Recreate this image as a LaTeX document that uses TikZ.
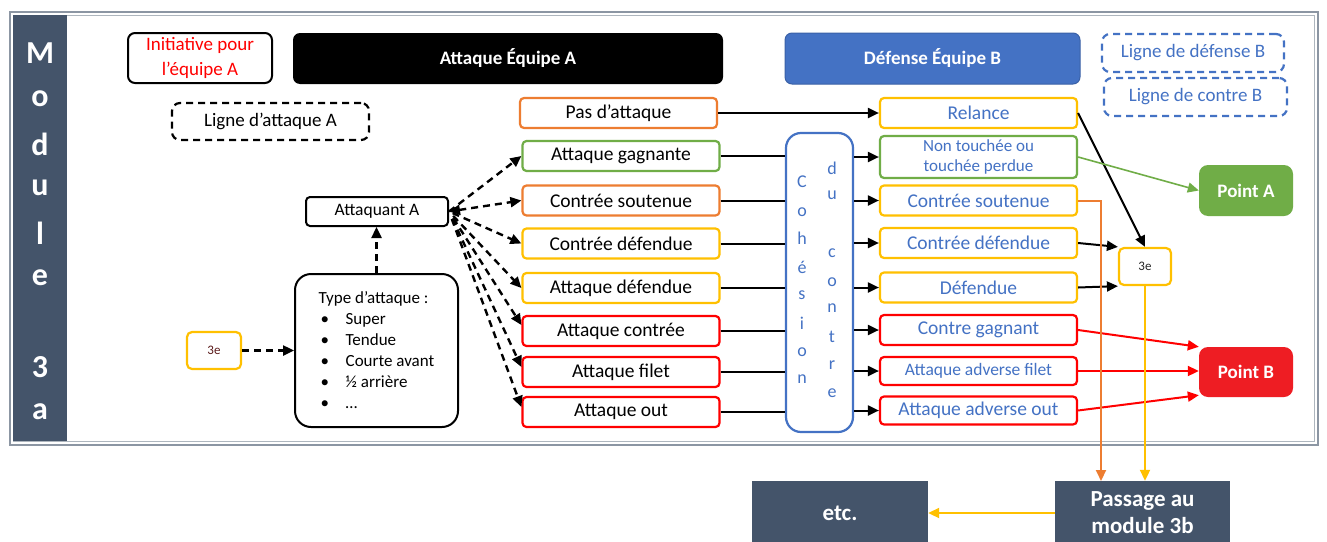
\documentclass[tikz,border=0pt]{standalone}
\usepackage{fontspec}
\setmainfont{Carlito}
\usetikzlibrary{arrows.meta,calc}
\definecolor{cOr}{HTML}{ED7D31}
\definecolor{cYe}{HTML}{FFC000}
\definecolor{cGr}{HTML}{70AD47}
\definecolor{cRe}{HTML}{FF0000}
\definecolor{cPB}{HTML}{EE1D23}
\definecolor{cBl}{HTML}{4472C4}
\definecolor{cSl}{HTML}{44546A}
\definecolor{cFr}{HTML}{8C96A3}
\definecolor{cDR}{HTML}{5A1A1A}
\newcommand{\tbul}{\makebox[27pt][l]{\hspace{2pt}\textbullet}}
\begin{document}
\begin{tikzpicture}[x=1pt,y=-1pt,
  >={Triangle[length=11pt,width=10pt]},
  cbox/.style={draw=#1, line width=2.2pt, rounded corners=4pt, fill=white, inner sep=0pt, align=center, minimum width=197pt, minimum height=30pt, font=\fontsize{19.5}{22}\selectfont},
  rbox/.style={cbox=#1, text=cBl},
  arr/.style={line width=2pt, ->},
  plainline/.style={line width=2pt},
  darr/.style={line width=2.4pt, dash pattern=on 7pt off 5pt, ->},
  dbox/.style={draw=#1, line width=2.2pt, dash pattern=on 7pt off 5pt, rounded corners=8pt, fill=white, inner sep=0pt, font=\fontsize{19}{22}\selectfont},
  titlebox/.style={rounded corners=7pt, inner sep=0pt, text=white, font=\fontsize{19}{22}\selectfont\bfseries},
  slate/.style={fill=cSl, inner sep=0pt, text=white, align=center, font=\fontsize{23}{27}\selectfont\bfseries},
  modletter/.style={text=white, inner sep=0pt, font=\fontsize{32}{32}\selectfont\bfseries},
  cohletter/.style={text=cBl, inner sep=0pt, font=\fontsize{18}{18}\selectfont},
  thirdbox/.style={draw=cYe, line width=2.2pt, rounded corners=5pt, fill=white, inner sep=0pt, minimum height=37pt, font=\fontsize{13}{13}\selectfont}
]
\useasboundingbox (0,0) rectangle (1327,541);
\clip (0,0) rectangle (1327,541);
\fill[white] (0,0) rectangle (1327,541);

% frame
\draw[cFr, line width=1.6pt] (10,12) rectangle (1318,445);
\draw[cFr!70, line width=1.2pt] (13.5,15.5) rectangle (1314.5,441.5);

% module bar
\node[fill=cSl, minimum width=54pt, minimum height=426pt, inner sep=0pt] (mod) at (40,228) {};
\foreach \l/\yy in {M/53,o/99,d/144,u/188,l/233,e/278,3/367,a/412}
  \node[modletter] (m\yy) at (40,\yy) {\l};

% top boxes
\node[draw, line width=2pt, rounded corners=7pt, minimum width=144pt, minimum height=50pt, inner sep=0pt, align=center, text=cRe, font=\fontsize{19}{25}\selectfont] (init) at (200,58) {Initiative pour\\l’équipe A};
\node[dbox=black, minimum width=197pt, minimum height=37pt] (lat) at (270.5,121.5) {Ligne d’attaque A};
\node[titlebox, fill=black, minimum width=430pt, minimum height=51pt] (atk) at (508,58.5) {Attaque Équipe A};
\node[titlebox, fill=cBl, draw=cBl!85!black, line width=1pt, minimum width=295pt, minimum height=51pt] (def) at (932.5,58.5) {Défense Équipe B};
\node[dbox=cBl, text=cBl, minimum width=182pt, minimum height=38pt] (ldb) at (1193,53) {Ligne de défense B};
\node[dbox=cBl, text=cBl, minimum width=183pt, minimum height=38pt] (lcb) at (1195.5,97) {Ligne de contre B};

% left column
\node[cbox=cOr, minimum width=197pt] (pas) at (618.5,113) {Pas d’attaque};
\node[cbox=cGr] (ag) at (621,156) {Attaque gagnante};
\node[cbox=cOr] (csl) at (621,200.5) {Contrée soutenue};
\node[cbox=cYe] (cdl) at (621,243.5) {Contrée défendue};
\node[cbox=cYe] (adl) at (621,288) {Attaque défendue};
\node[cbox=cRe] (acl) at (621,331) {Attaque contrée};
\node[cbox=cRe] (afl) at (621,372) {Attaque filet};
\node[cbox=cRe] (aol) at (621,412) {Attaque out};

% right column
\node[rbox=cYe] (rel) at (978.5,113) {Relance};
\node[rbox=cGr, minimum height=42pt, font=\fontsize{17}{20}\selectfont] (nt) at (978.5,157) {Non touchée ou\\touchée perdue};
\node[rbox=cYe] (csr) at (978.5,200.5) {Contrée soutenue};
\node[rbox=cYe] (cdr) at (978.5,243) {Contrée défendue};
\node[rbox=cYe] (dr) at (978.5,287.5) {Défendue};
\node[rbox=cRe] (cgr) at (978.5,330) {Contre gagnant};
\node[rbox=cRe, minimum height=28pt, font=\fontsize{17.5}{20}\selectfont] (afr) at (978.5,371) {Attaque adverse filet};
\node[rbox=cRe, minimum height=28pt] (aor) at (978.5,410.5) {Attaque adverse out};

% cohesion du contre
\node[draw=cBl, line width=2.2pt, rounded corners=15pt, fill=white, minimum width=67pt, minimum height=299pt, inner sep=0pt] (coh) at (819.5,282.5) {};
\foreach \l/\yy in {C/182,o/212,h/238,é/267,s/295,i/323,o/352,n/379}
  \node[cohletter] (ca\yy) at (802,\yy) {\l};
\foreach \l/\yy in {d/168,u/195,c/253,o/282,n/308,t/337,r/365,e/393}
  \node[cohletter] (cb\yy) at (832,\yy) {\l};

% points
\node[titlebox, fill=cGr, rounded corners=9pt, minimum width=94pt, minimum height=51pt] (pa) at (1246,190.5) {Point A};
\node[titlebox, fill=cPB, rounded corners=9pt, minimum width=94pt, minimum height=50pt] (pb) at (1246,372) {Point B};

% 3e boxes
\node[thirdbox, minimum width=52pt, text=black!85] (tr) at (1145,266.5) {3e};
\node[thirdbox, minimum width=54pt, text=cDR] (tl) at (214,350.5) {3e};

% attacker
\node[draw, line width=2pt, rounded corners=4pt, fill=white, minimum width=142pt, minimum height=29pt, inner sep=0pt, font=\fontsize{17.5}{20}\selectfont] (aa) at (377,211.5) {Attaquant A};
\node[draw, line width=2pt, rounded corners=16pt, fill=white, minimum width=163pt, minimum height=153pt, inner sep=0pt, align=left, font=\fontsize{17}{21}\selectfont] (typ) at (376.5,350.5) {Type d’attaque :\\\tbul Super\\\tbul Tendue\\\tbul Courte avant\\\tbul ½ arrière\\\tbul …};

% bottom boxes
\node[slate, minimum width=176pt, minimum height=64pt] (etc) at (840,513) {etc.};
\node[slate, minimum width=175pt, minimum height=64pt] (pass) at (1142.5,513) {Passage au\\module 3b};
\coordinate (oc) at (1101,481);

% connectors: relance
\draw[arr] (pas.east) -- (rel.west);
\foreach \a/\b in {ag/nt, csl/csr, cdl/cdr, adl/dr, acl/cgr, afl/afr, aol/aor} {
  \draw[plainline] (\a.east) -- (\a.east -| coh.west);
  \draw[arr] (\b.west -| coh.east) -- (\b.west);
}

% right side
\draw[arr] (rel.east) -- (tr.north);
\draw[arr] (cdr.east) -- (tr.north west);
\draw[arr] (dr.east) -- (tr.south west);
\draw[arr, cGr, line width=1.6pt] (nt.east) -- (pa.west);
\draw[arr, cRe] (cgr.east) -- (pb.north west);
\draw[arr, cRe] (afr.east) -- (afr.east -| pb.west);
\draw[arr, cRe] (aor.east) -- ($(pb.south west)+(0,-2)$);
\draw[arr, cOr] (csr.east) -| (oc);
\draw[arr, cYe] (tr.south) -- (tr.south |- pass.north);
\draw[arr, cYe] (pass.west) -- (etc.east);

% left dashed
\draw[darr] (typ.north) -- (typ.north |- aa.south);
\draw[darr] (tl.east) -- (typ.west);
\draw[darr] (aa.east) -- (ag.west);
\draw[darr, <->] (aa.east) -- (csl.west);
\draw[darr, shorten <=4pt] (aa.east) -- (cdl.west);
\draw[darr, shorten <=6pt] (aa.east) -- (adl.west);
\draw[darr, shorten <=8pt] (aa.east) -- ($(acl.west)+(0,-6)$);
\draw[darr, shorten <=8pt] (aa.east) -- ($(afl.west)+(0,-5)$);
\draw[darr, shorten <=8pt] (aa.east) -- ($(aol.west)+(0,-5)$);
\end{tikzpicture}
\end{document}
